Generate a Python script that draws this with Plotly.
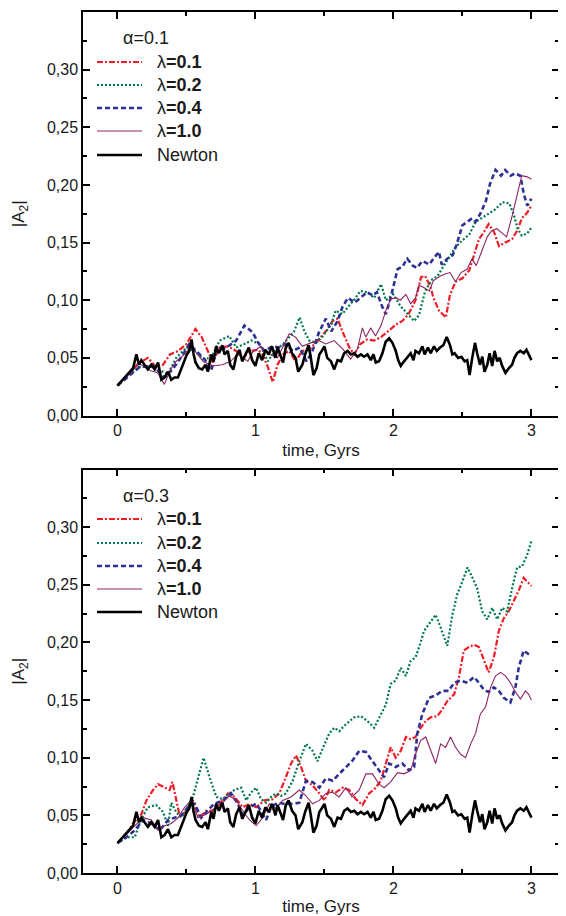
import plotly.graph_objects as go
from plotly.subplots import make_subplots

# ---------------- data ----------------
newton_t = [0.0, 0.053, 0.089, 0.113, 0.137, 0.156, 0.173, 0.197, 0.22, 0.245, 0.27, 0.294, 0.318, 0.342, 0.366,
            0.39, 0.414, 0.438, 0.455, 0.48, 0.503, 0.52, 0.537, 0.55, 0.566, 0.59, 0.614, 0.638, 0.655, 0.68,
            0.696, 0.715, 0.735, 0.76, 0.776, 0.80, 0.817, 0.84, 0.86, 0.884, 0.904, 0.928, 0.952, 0.976, 1.0,
            1.024, 1.048, 1.072, 1.096, 1.12, 1.145, 1.16, 1.185, 1.20, 1.22, 1.24, 1.265, 1.29, 1.31, 1.34,
            1.36, 1.385, 1.40, 1.42, 1.443, 1.463, 1.48, 1.50, 1.52, 1.547, 1.571, 1.595, 1.62, 1.643, 1.667,
            1.692, 1.716, 1.74, 1.764, 1.788, 1.812, 1.836, 1.855, 1.872, 1.896, 1.92, 1.944, 1.969, 1.993, 2.017,
            2.034, 2.053, 2.077, 2.10, 2.125, 2.145, 2.16, 2.185, 2.21, 2.226, 2.25, 2.27, 2.294, 2.314, 2.338,
            2.362, 2.386, 2.41, 2.427, 2.443, 2.468, 2.492, 2.516, 2.535, 2.552, 2.571, 2.591, 2.607, 2.627, 2.644,
            2.66, 2.68, 2.697, 2.716, 2.733, 2.752, 2.77, 2.788, 2.812, 2.836, 2.86, 2.877, 2.896, 2.92, 2.945,
            2.964, 2.98, 3.00]
newton_a2 = [0.026, 0.033, 0.038, 0.041, 0.053, 0.044, 0.048, 0.044, 0.040, 0.044, 0.040, 0.046, 0.031, 0.033, 0.038,
             0.031, 0.033, 0.033, 0.038, 0.047, 0.053, 0.056, 0.066, 0.054, 0.046, 0.041, 0.040, 0.044, 0.038, 0.053,
             0.047, 0.060, 0.054, 0.061, 0.053, 0.056, 0.044, 0.040, 0.051, 0.057, 0.047, 0.053, 0.059, 0.048, 0.043,
             0.054, 0.048, 0.057, 0.053, 0.060, 0.050, 0.059, 0.050, 0.046, 0.059, 0.063, 0.054, 0.050, 0.038, 0.044,
             0.053, 0.061, 0.051, 0.035, 0.041, 0.053, 0.056, 0.060, 0.050, 0.047, 0.040, 0.048, 0.047, 0.054, 0.056,
             0.053, 0.054, 0.051, 0.053, 0.051, 0.053, 0.048, 0.053, 0.046, 0.047, 0.054, 0.064, 0.067, 0.063, 0.056,
             0.048, 0.043, 0.047, 0.050, 0.054, 0.048, 0.056, 0.054, 0.060, 0.053, 0.059, 0.054, 0.060, 0.056, 0.059,
             0.061, 0.068, 0.061, 0.053, 0.054, 0.050, 0.051, 0.047, 0.048, 0.035, 0.050, 0.063, 0.054, 0.044, 0.051,
             0.038, 0.044, 0.054, 0.043, 0.056, 0.047, 0.050, 0.043, 0.037, 0.041, 0.044, 0.050, 0.054, 0.056, 0.054,
             0.057, 0.053, 0.048]

# alpha = 0.1 (top panel)
a1_l01_t = [0.0, 0.09, 0.15, 0.22, 0.28, 0.33, 0.38, 0.44, 0.50, 0.565, 0.61, 0.655, 0.69, 0.74, 0.80, 0.86,
            0.91, 0.96, 1.02, 1.05, 1.09, 1.125, 1.16, 1.20, 1.245, 1.29, 1.34, 1.39, 1.45, 1.51, 1.56, 1.595,
            1.63, 1.68, 1.715, 1.76, 1.81, 1.86, 1.91, 1.96, 2.02, 2.065, 2.11, 2.16, 2.20, 2.23, 2.27, 2.29,
            2.33, 2.38, 2.41, 2.45, 2.50, 2.55, 2.58, 2.62, 2.655, 2.69, 2.73, 2.765, 2.81, 2.86, 2.90, 2.93,
            2.97, 3.00]
a1_l01_a2 = [0.026, 0.037, 0.045, 0.050, 0.042, 0.044, 0.053, 0.056, 0.062, 0.075, 0.068, 0.056, 0.046, 0.059, 0.060, 0.056,
             0.050, 0.056, 0.057, 0.053, 0.042, 0.029, 0.044, 0.053, 0.056, 0.047, 0.056, 0.057, 0.065, 0.073, 0.082, 0.084,
             0.073, 0.059, 0.053, 0.062, 0.066, 0.065, 0.068, 0.073, 0.079, 0.082, 0.088, 0.100, 0.120, 0.121, 0.111, 0.102,
             0.091, 0.085, 0.105, 0.116, 0.119, 0.126, 0.137, 0.153, 0.159, 0.166, 0.159, 0.147, 0.150, 0.153, 0.161, 0.171,
             0.176, 0.182]

a1_l02_t = [0.0, 0.09, 0.16, 0.235, 0.31, 0.366, 0.425, 0.50, 0.56, 0.62, 0.68, 0.74, 0.81, 0.86, 0.92, 0.97,
            1.03, 1.09, 1.14, 1.20, 1.245, 1.28, 1.32, 1.355, 1.39, 1.44, 1.49, 1.55, 1.58, 1.63, 1.67, 1.72,
            1.76, 1.81, 1.86, 1.91, 1.945, 2.00, 2.05, 2.10, 2.15, 2.185, 2.23, 2.28, 2.32, 2.35, 2.40, 2.45,
            2.50, 2.55, 2.595, 2.64, 2.69, 2.74, 2.79, 2.84, 2.87, 2.90, 2.93, 2.97, 3.00]
a1_l02_a2 = [0.026, 0.036, 0.042, 0.043, 0.039, 0.036, 0.050, 0.059, 0.056, 0.049, 0.050, 0.065, 0.069, 0.059, 0.062, 0.065,
             0.062, 0.047, 0.056, 0.062, 0.068, 0.073, 0.085, 0.073, 0.065, 0.063, 0.069, 0.079, 0.091, 0.088, 0.094, 0.101,
             0.108, 0.107, 0.102, 0.114, 0.100, 0.105, 0.095, 0.088, 0.082, 0.087, 0.108, 0.118, 0.121, 0.127, 0.137, 0.146,
             0.152, 0.157, 0.168, 0.171, 0.175, 0.179, 0.185, 0.184, 0.175, 0.162, 0.156, 0.158, 0.163]

a1_l04_t = [0.0, 0.16, 0.26, 0.34, 0.40, 0.475, 0.52, 0.57, 0.63, 0.68, 0.715, 0.79, 0.86, 0.92, 0.98, 1.02,
            1.065, 1.125, 1.17, 1.22, 1.27, 1.32, 1.37, 1.41, 1.46, 1.51, 1.55, 1.595, 1.63, 1.67, 1.72, 1.76,
            1.81, 1.85, 1.88, 1.92, 1.945, 1.98, 2.03, 2.065, 2.10, 2.14, 2.17, 2.21, 2.26, 2.29, 2.33, 2.35,
            2.39, 2.43, 2.46, 2.50, 2.535, 2.57, 2.595, 2.63, 2.67, 2.70, 2.74, 2.78, 2.81, 2.85, 2.88, 2.92,
            2.945, 2.97, 3.00]
a1_l04_a2 = [0.026, 0.042, 0.043, 0.033, 0.040, 0.053, 0.062, 0.056, 0.049, 0.039, 0.056, 0.059, 0.065, 0.078, 0.072, 0.063,
             0.056, 0.060, 0.059, 0.062, 0.056, 0.059, 0.047, 0.055, 0.072, 0.084, 0.073, 0.082, 0.094, 0.102, 0.098, 0.102,
             0.107, 0.104, 0.107, 0.094, 0.088, 0.102, 0.127, 0.129, 0.136, 0.130, 0.128, 0.134, 0.131, 0.136, 0.142, 0.131,
             0.136, 0.139, 0.149, 0.165, 0.168, 0.171, 0.168, 0.175, 0.186, 0.201, 0.213, 0.208, 0.213, 0.208, 0.210, 0.208,
             0.192, 0.182, 0.188]

a1_l10_t = [0.0, 0.09, 0.16, 0.235, 0.29, 0.34, 0.38, 0.425, 0.485, 0.535, 0.58, 0.62, 0.69, 0.76, 0.82, 0.87,
            0.945, 0.98, 1.04, 1.10, 1.16, 1.21, 1.245, 1.29, 1.34, 1.40, 1.46, 1.51, 1.57, 1.63, 1.69, 1.74,
            1.775, 1.80, 1.835, 1.87, 1.91, 1.945, 1.98, 2.02, 2.05, 2.09, 2.125, 2.16, 2.185, 2.22, 2.26, 2.29,
            2.34, 2.38, 2.41, 2.45, 2.49, 2.535, 2.57, 2.60, 2.64, 2.68, 2.71, 2.75, 2.79, 2.82, 2.86, 2.90,
            2.93, 2.97, 3.00]
a1_l10_a2 = [0.026, 0.037, 0.045, 0.039, 0.037, 0.027, 0.039, 0.047, 0.053, 0.060, 0.053, 0.047, 0.043, 0.044, 0.047, 0.053,
             0.047, 0.055, 0.060, 0.053, 0.050, 0.062, 0.071, 0.068, 0.060, 0.063, 0.065, 0.062, 0.065, 0.058, 0.049, 0.058,
             0.076, 0.068, 0.076, 0.069, 0.078, 0.091, 0.101, 0.102, 0.100, 0.105, 0.097, 0.102, 0.113, 0.111, 0.108, 0.117,
             0.121, 0.123, 0.124, 0.116, 0.124, 0.127, 0.136, 0.130, 0.143, 0.155, 0.160, 0.162, 0.158, 0.155, 0.173, 0.192,
             0.208, 0.207, 0.205]

# alpha = 0.3 (bottom panel)
a3_l01_t = [0.0, 0.065, 0.113, 0.173, 0.21, 0.258, 0.294, 0.342, 0.378, 0.398, 0.427, 0.45, 0.50, 0.547, 0.595, 0.643,
            0.69, 0.74, 0.80, 0.848, 0.908, 0.957, 1.005, 1.065, 1.125, 1.173, 1.22, 1.258, 1.294, 1.33, 1.366, 1.414,
            1.463, 1.50, 1.535, 1.583, 1.63, 1.68, 1.728, 1.776, 1.824, 1.872, 1.908, 1.945, 1.98, 2.017, 2.053, 2.09,
            2.125, 2.16, 2.198, 2.234, 2.27, 2.318, 2.355, 2.39, 2.44, 2.475, 2.51, 2.547, 2.583, 2.62, 2.655, 2.69,
            2.728, 2.764, 2.80, 2.836, 2.872, 2.908, 2.944, 2.969, 3.00]
a3_l01_a2 = [0.026, 0.034, 0.043, 0.051, 0.063, 0.072, 0.077, 0.074, 0.072, 0.079, 0.063, 0.050, 0.053, 0.063, 0.048, 0.054,
             0.054, 0.060, 0.069, 0.066, 0.057, 0.060, 0.057, 0.063, 0.064, 0.069, 0.083, 0.095, 0.102, 0.092, 0.080, 0.076,
             0.069, 0.063, 0.072, 0.070, 0.074, 0.072, 0.064, 0.059, 0.069, 0.074, 0.080, 0.095, 0.109, 0.100, 0.106, 0.118,
             0.116, 0.118, 0.126, 0.132, 0.135, 0.136, 0.142, 0.149, 0.155, 0.170, 0.193, 0.196, 0.198, 0.196, 0.184, 0.174,
             0.187, 0.210, 0.221, 0.227, 0.236, 0.245, 0.256, 0.253, 0.249]

a3_l02_t = [0.0, 0.065, 0.125, 0.17, 0.22, 0.28, 0.33, 0.366, 0.39, 0.425, 0.46, 0.50, 0.547, 0.583, 0.624, 0.667,
            0.716, 0.764, 0.81, 0.848, 0.896, 0.933, 0.969, 1.005, 1.04, 1.077, 1.113, 1.149, 1.186, 1.22, 1.27, 1.318,
            1.366, 1.414, 1.45, 1.487, 1.535, 1.571, 1.607, 1.655, 1.716, 1.764, 1.81, 1.86, 1.908, 1.945, 1.98, 2.017,
            2.053, 2.09, 2.125, 2.16, 2.186, 2.222, 2.258, 2.306, 2.342, 2.39, 2.427, 2.463, 2.50, 2.537, 2.573, 2.607,
            2.643, 2.68, 2.716, 2.752, 2.788, 2.824, 2.86, 2.896, 2.933, 2.969, 3.00]
a3_l02_a2 = [0.026, 0.031, 0.031, 0.046, 0.057, 0.059, 0.053, 0.041, 0.061, 0.053, 0.048, 0.054, 0.066, 0.083, 0.100, 0.083,
             0.066, 0.064, 0.069, 0.072, 0.074, 0.063, 0.070, 0.074, 0.064, 0.061, 0.066, 0.069, 0.067, 0.069, 0.080, 0.097,
             0.112, 0.106, 0.097, 0.108, 0.121, 0.126, 0.123, 0.129, 0.135, 0.136, 0.132, 0.126, 0.138, 0.146, 0.164, 0.167,
             0.178, 0.171, 0.184, 0.187, 0.196, 0.210, 0.216, 0.224, 0.213, 0.197, 0.224, 0.242, 0.253, 0.265, 0.256, 0.247,
             0.227, 0.220, 0.230, 0.220, 0.230, 0.227, 0.247, 0.265, 0.266, 0.276, 0.288]

a3_l04_t = [0.0, 0.065, 0.125, 0.185, 0.246, 0.306, 0.366, 0.414, 0.463, 0.51, 0.56, 0.607, 0.655, 0.70, 0.764, 0.824,
            0.872, 0.908, 0.957, 1.005, 1.04, 1.077, 1.113, 1.16, 1.21, 1.27, 1.318, 1.366, 1.414, 1.463, 1.51, 1.56,
            1.607, 1.655, 1.70, 1.752, 1.80, 1.848, 1.896, 1.932, 1.969, 2.017, 2.065, 2.113, 2.15, 2.173, 2.21, 2.258,
            2.306, 2.355, 2.40, 2.44, 2.487, 2.537, 2.583, 2.62, 2.655, 2.69, 2.728, 2.764, 2.80, 2.848, 2.884, 2.908,
            2.944, 2.969, 3.00]
a3_l04_a2 = [0.026, 0.031, 0.037, 0.046, 0.043, 0.037, 0.046, 0.048, 0.050, 0.057, 0.060, 0.048, 0.054, 0.060, 0.063, 0.069,
             0.060, 0.050, 0.057, 0.060, 0.054, 0.046, 0.057, 0.061, 0.060, 0.060, 0.061, 0.080, 0.079, 0.074, 0.082, 0.080,
             0.086, 0.092, 0.097, 0.106, 0.105, 0.097, 0.089, 0.083, 0.095, 0.092, 0.095, 0.089, 0.092, 0.121, 0.138, 0.152,
             0.154, 0.158, 0.158, 0.165, 0.167, 0.165, 0.170, 0.165, 0.159, 0.157, 0.161, 0.158, 0.152, 0.148, 0.161, 0.178,
             0.193, 0.191, 0.188]

a3_l10_t = [0.0, 0.065, 0.125, 0.185, 0.246, 0.294, 0.342, 0.39, 0.44, 0.487, 0.535, 0.583, 0.643, 0.70, 0.764, 0.81,
            0.86, 0.908, 0.957, 1.005, 1.053, 1.10, 1.149, 1.197, 1.258, 1.318, 1.366, 1.414, 1.463, 1.51, 1.56, 1.607,
            1.655, 1.70, 1.752, 1.80, 1.848, 1.896, 1.932, 1.98, 2.03, 2.077, 2.125, 2.16, 2.198, 2.234, 2.27, 2.306,
            2.342, 2.378, 2.414, 2.45, 2.487, 2.523, 2.56, 2.595, 2.63, 2.668, 2.704, 2.74, 2.776, 2.812, 2.848, 2.884,
            2.92, 2.957, 2.98, 3.00]
a3_l10_a2 = [0.026, 0.034, 0.041, 0.048, 0.046, 0.037, 0.041, 0.043, 0.048, 0.057, 0.063, 0.048, 0.051, 0.056, 0.061, 0.067,
             0.063, 0.054, 0.046, 0.041, 0.048, 0.060, 0.056, 0.063, 0.066, 0.072, 0.067, 0.060, 0.063, 0.069, 0.070, 0.066,
             0.074, 0.066, 0.072, 0.086, 0.086, 0.077, 0.074, 0.079, 0.087, 0.086, 0.089, 0.103, 0.115, 0.118, 0.106, 0.095,
             0.112, 0.109, 0.118, 0.109, 0.103, 0.100, 0.112, 0.121, 0.138, 0.144, 0.161, 0.171, 0.174, 0.171, 0.165, 0.157,
             0.151, 0.158, 0.155, 0.150]

series_names = ["λ<b>=0.1</b>", "λ<b>=0.2</b>", "λ<b>=0.4</b>", "λ<b>=1.0</b>", "Newton"]
panel_labels = ["α=0.1", "α=0.3"]
y_ticks = [0.0, 0.05, 0.10, 0.15, 0.20, 0.25, 0.30]
x_ticks = [0, 1, 2, 3]

# ---------------- layout constants ----------------
# The page body has an 8px default margin, so the figure is made 8px smaller
# and all positions below are given in window pixels.
OFF = 8
WIN_W, WIN_H = 566, 916
W, H = WIN_W - OFF, WIN_H - OFF
PLOT_L, PLOT_R, PLOT_T, PLOT_B = 83, 559, 12, 873      # window pixels of the plot area
ML, MT = PLOT_L - OFF, PLOT_T - OFF
MR, MB = W - (PLOT_R - OFF), H - (PLOT_B - OFF)
PW, PH = PLOT_R - PLOT_L, PLOT_B - PLOT_T


def px_x(px):
    return (px - PLOT_L) / PW


def px_y(py):
    return (PLOT_B - py) / PH


FONT = "Liberation Sans, Arial, sans-serif"
TXT = "#1a1a1a"

styles = [
    dict(color="#ee1c24", width=2.2, dash="6px,2px,2px,2px"),
    dict(color="#00794a", width=2.2, dash="2px,2px"),
    dict(color="#2e3192", width=2.6, dash="5px,3px"),
    dict(color="#8b2562", width=1.1, dash="solid"),
    dict(color="#000000", width=2.6, dash="solid"),
]

fig = make_subplots(rows=2, cols=1, vertical_spacing=54 / PH)

panels = [
    [(a1_l01_t, a1_l01_a2), (a1_l02_t, a1_l02_a2), (a1_l04_t, a1_l04_a2), (a1_l10_t, a1_l10_a2), (newton_t, newton_a2)],
    [(a3_l01_t, a3_l01_a2), (a3_l02_t, a3_l02_a2), (a3_l04_t, a3_l04_a2), (a3_l10_t, a3_l10_a2), (newton_t, newton_a2)],
]

for r, panel in enumerate(panels, start=1):
    for i, (tt, vv) in enumerate(panel):
        fig.add_trace(go.Scatter(x=tt, y=vv, mode="lines", name=series_names[i],
                                 line=dict(**styles[i]), showlegend=False), row=r, col=1)

axis_common = dict(showline=True, linecolor="black", linewidth=1.5, mirror="allticks",
                   ticks="inside", ticklen=7, tickwidth=1.5, tickcolor="black",
                   showgrid=False, zeroline=False, automargin=False,
                   tickfont=dict(family=FONT, size=16, color=TXT))

for r in (1, 2):
    fig.update_xaxes(range=[-0.25, 3.2], tickvals=x_ticks,
                     minor=dict(ticks="inside", dtick=0.5, tick0=0, ticklen=4, tickwidth=1.5, tickcolor="black"),
                     title=dict(text="time, Gyrs", font=dict(family=FONT, size=17, color=TXT), standoff=6),
                     row=r, col=1, **axis_common)
    fig.update_yaxes(range=[0, 0.35], tickvals=y_ticks, tickformat=".2f",
                     minor=dict(ticks="inside", dtick=0.025, tick0=0, ticklen=4, tickwidth=1.5, tickcolor="black"),
                     title=dict(text="|A<sub>2</sub>|", font=dict(family=FONT, size=17, color=TXT), standoff=18),
                     row=r, col=1, **axis_common)

# hand-placed legends (one per panel), window pixels
legend_rows = {1: (38, [62, 85, 108, 131, 155]), 2: (496, [519, 543, 566, 589, 612])}
annotations = []
shapes = []
for r, (ytitle, rows) in legend_rows.items():
    annotations.append(dict(text=panel_labels[r - 1], xref="paper", yref="paper", x=px_x(121), y=px_y(ytitle),
                            xanchor="left", yanchor="middle", showarrow=False,
                            font=dict(family=FONT, size=18, color=TXT)))
    for i, yy in enumerate(rows):
        shapes.append(dict(type="line", xref="paper", yref="paper", x0=px_x(97), x1=px_x(142),
                           y0=px_y(yy), y1=px_y(yy), line=dict(**styles[i])))
        annotations.append(dict(text=series_names[i], xref="paper", yref="paper", x=px_x(155), y=px_y(yy),
                                xanchor="left", yanchor="middle", showarrow=False,
                                font=dict(family=FONT, size=18, color=TXT)))

fig.update_layout(
    width=W, height=H,
    margin=dict(l=ML, r=MR, t=MT, b=MB),
    paper_bgcolor="white", plot_bgcolor="white",
    separators=",.",
    showlegend=False,
    annotations=annotations,
    shapes=shapes,
)

fig.write_html("out.html")
